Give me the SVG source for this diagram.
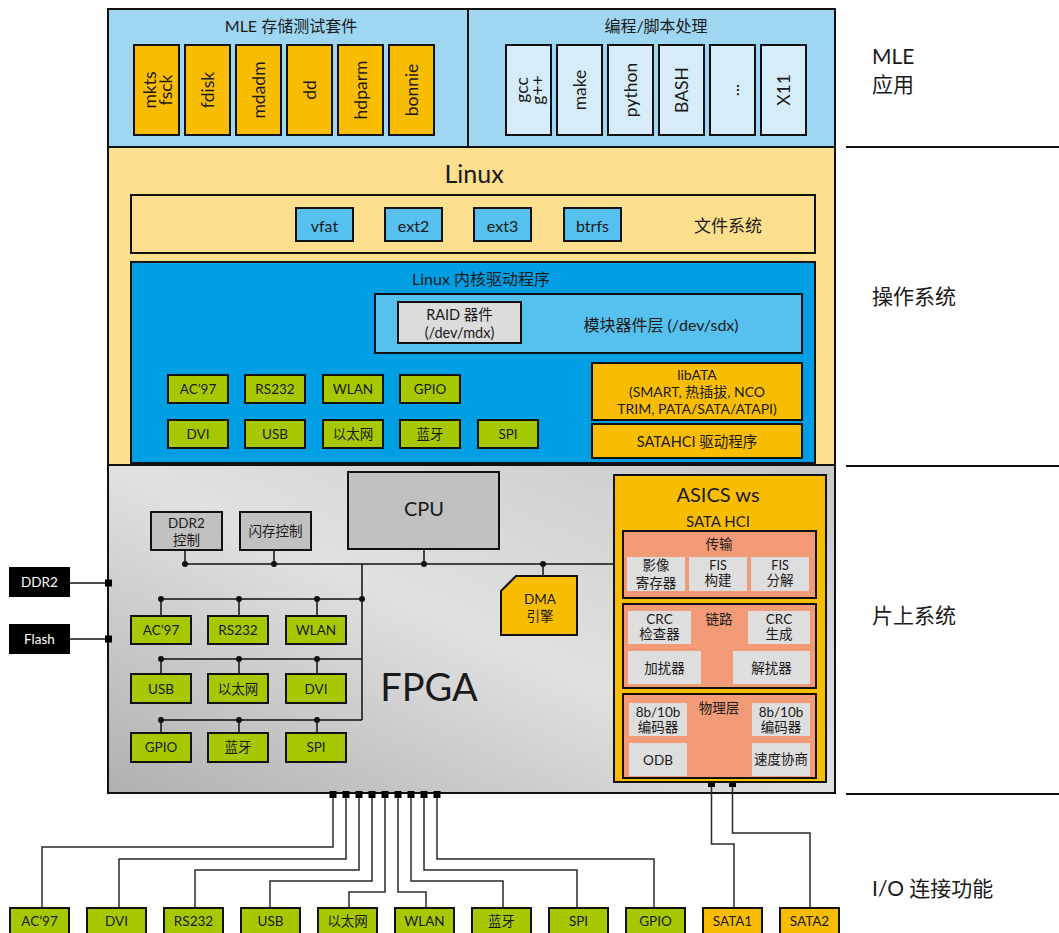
<svg xmlns="http://www.w3.org/2000/svg" width="1059" height="933" viewBox="0 0 1059 933">
<defs>
<linearGradient id="fpgaGrad" x1="0" y1="1" x2="1" y2="0">
<stop offset="0" stop-color="#b0b0b0"/>
<stop offset="0.5" stop-color="#e1e1e1"/>
<stop offset="1" stop-color="#c8c8c8"/>
</linearGradient>
</defs>
<style>
text{font-family:Lato,"Noto Sans CJK SC",sans-serif;fill:#1a1a1a;text-anchor:middle;dominant-baseline:central;font-size:13.5px}
.b{stroke:#111;stroke-width:2}
.org{fill:#f9bd00}
.lb{fill:#d6ecf8}
.grn{fill:#a6c800}
.sky{fill:#56c0ee}
.gry{fill:#c1c1c1}
.lg{fill:#dedede}
.sal{fill:#f29b76}
.v{font-size:17.5px}
.w{fill:#fff}
.ln{fill:none;stroke:#111;stroke-width:1.5}
.bl{fill:none;stroke:#2a2a2a;stroke-width:1.5}
.sep{stroke:#111;stroke-width:2}
.lab{font-size:21px;text-anchor:start}
</style>

<!-- bands -->
<g id="band-mle">
<rect x="108" y="9" width="727" height="138" fill="#9fd7f2" class="b"/>
<line x1="468" y1="9" x2="468" y2="147" class="sep"/>
<text x="291" y="25" style="font-size:16px">MLE 存储测试套件</text>
<text x="656" y="25" style="font-size:16px">编程/脚本处理</text>
</g>
<g id="band-linux">
<rect x="108" y="147" width="727" height="318" fill="#fddf8e" class="b"/>
<text x="474" y="173" style="font-size:25px">Linux</text>
</g>
<g id="band-fpga">
<rect x="108" y="465" width="727" height="328" fill="url(#fpgaGrad)" class="b"/>
<text x="429" y="686" style="font-size:38px">FPGA</text>
</g>

<!-- MLE storage tools -->
<g id="app-mkts"><rect x="134" y="45" width="45" height="90" class="org b"/><text class="v" transform="translate(156.5,90) rotate(-90)"><tspan x="0" y="-8">mkts</tspan><tspan x="0" y="8">fsck</tspan></text></g>
<g id="app-fdisk"><rect x="185" y="45" width="45" height="90" class="org b"/><text class="v" transform="translate(207.5,90) rotate(-90)">fdisk</text></g>
<g id="app-mdadm"><rect x="236" y="45" width="45" height="90" class="org b"/><text class="v" transform="translate(258.5,90) rotate(-90)">mdadm</text></g>
<g id="app-dd"><rect x="287" y="45" width="45" height="90" class="org b"/><text class="v" transform="translate(309.5,90) rotate(-90)">dd</text></g>
<g id="app-hdparm"><rect x="338" y="45" width="45" height="90" class="org b"/><text class="v" transform="translate(360.5,90) rotate(-90)">hdparm</text></g>
<g id="app-bonnie"><rect x="389" y="45" width="45" height="90" class="org b"/><text class="v" transform="translate(411.5,90) rotate(-90)">bonnie</text></g>

<g id="app-gcc"><rect x="506" y="45" width="45" height="90" class="lb b"/><text class="v" transform="translate(528.5,90) rotate(-90)"><tspan x="0" y="-8">gcc</tspan><tspan x="0" y="8">g++</tspan></text></g>
<g id="app-make"><rect x="557" y="45" width="45" height="90" class="lb b"/><text class="v" transform="translate(579.5,90) rotate(-90)">make</text></g>
<g id="app-python"><rect x="608" y="45" width="45" height="90" class="lb b"/><text class="v" transform="translate(630.5,90) rotate(-90)">python</text></g>
<g id="app-bash"><rect x="659" y="45" width="45" height="90" class="lb b"/><text class="v" transform="translate(681.5,90) rotate(-90)">BASH</text></g>
<g id="app-etc"><rect x="710" y="45" width="45" height="90" class="lb b"/><text class="v" transform="translate(732.5,90) rotate(-90)">...</text></g>
<g id="app-x11"><rect x="761" y="45" width="45" height="90" class="lb b"/><text class="v" transform="translate(783.5,90) rotate(-90)">X11</text></g>

<!-- file systems -->
<g id="fs">
<rect x="131" y="195" width="684" height="58" fill="#fddf8e" class="b"/>
<text x="728" y="225" style="font-size:17px">文件系统</text>
</g>
<g id="fs-vfat"><rect x="296" y="208" width="57" height="33" class="sky b"/><text x="324.5" y="225" style="font-size:16px">vfat</text></g>
<g id="fs-ext2"><rect x="385" y="208" width="57" height="33" class="sky b"/><text x="413.5" y="225" style="font-size:16px">ext2</text></g>
<g id="fs-ext3"><rect x="474" y="208" width="57" height="33" class="sky b"/><text x="502.5" y="225" style="font-size:16px">ext3</text></g>
<g id="fs-btrfs"><rect x="564" y="208" width="57" height="33" class="sky b"/><text x="592.5" y="225" style="font-size:16px">btrfs</text></g>

<!-- kernel -->
<g id="kernel">
<rect x="131" y="262" width="684" height="201" fill="#009fe3" class="b"/>
<text x="481" y="278" style="font-size:16px">Linux 内核驱动程序</text>
</g>
<g id="block-layer">
<rect x="375" y="294" width="427" height="59" class="sky b"/>
<text x="661" y="324" style="font-size:16px">模块器件层 (/dev/sdx)</text>
</g>
<g id="raid"><rect x="398" y="302" width="123" height="41" fill="#dcdcdc" class="b"/><text x="459.5" y="314" style="font-size:14.5px">RAID 器件</text><text x="459.5" y="332" style="font-size:14.5px">(/dev/mdx)</text></g>
<g id="libata"><rect x="592" y="363" width="210" height="57" class="org b"/>
<text x="697" y="374" style="font-size:14px">libATA</text>
<text x="697" y="391" style="font-size:14px">(SMART, 热插拔, NCO</text>
<text x="697" y="408" style="font-size:14px">TRIM, PATA/SATA/ATAPI)</text></g>
<g id="satahci-drv"><rect x="592" y="424" width="210" height="34" class="org b"/><text x="697" y="441" style="font-size:14.5px">SATAHCI 驱动程序</text></g>

<g id="k-ac97"><rect x="168" y="375" width="60" height="28" class="grn b"/><text x="198" y="389">AC’97</text></g>
<g id="k-rs232"><rect x="245" y="375" width="60" height="28" class="grn b"/><text x="275" y="389">RS232</text></g>
<g id="k-wlan"><rect x="323" y="375" width="60" height="28" class="grn b"/><text x="353" y="389">WLAN</text></g>
<g id="k-gpio"><rect x="400" y="375" width="60" height="28" class="grn b"/><text x="430" y="389">GPIO</text></g>
<g id="k-dvi"><rect x="168" y="420" width="60" height="28" class="grn b"/><text x="198" y="434">DVI</text></g>
<g id="k-usb"><rect x="245" y="420" width="60" height="28" class="grn b"/><text x="275" y="434">USB</text></g>
<g id="k-eth"><rect x="323" y="420" width="60" height="28" class="grn b"/><text x="353" y="434">以太网</text></g>
<g id="k-bt"><rect x="400" y="420" width="60" height="28" class="grn b"/><text x="430" y="434">蓝牙</text></g>
<g id="k-spi"><rect x="478" y="420" width="60" height="28" class="grn b"/><text x="508" y="434">SPI</text></g>

<!-- connectors -->
<g id="connectors">
<path class="ln" d="M185 550V564M274 550V564M424 549V564M185 564H613M543 564V576M362 564V720M161 599H362M161 599V616M239 599V616M317 599V616M161 659H362M161 659V674M239 659V674M317 659V674M161 720H362M161 720V733M239 720V733M317 720V733"/>
<path class="ln" d="M70 583H108M70 639H108"/>
<g fill="#111">
<circle cx="185" cy="564" r="3"/><circle cx="274" cy="564" r="3"/><circle cx="424" cy="564" r="3"/><circle cx="543" cy="564" r="3"/>
<circle cx="161" cy="599" r="3"/><circle cx="239" cy="599" r="3"/><circle cx="317" cy="599" r="3"/><circle cx="362" cy="599" r="3"/>
<circle cx="161" cy="659" r="3"/><circle cx="239" cy="659" r="3"/><circle cx="317" cy="659" r="3"/>
<circle cx="161" cy="720" r="3"/><circle cx="239" cy="720" r="3"/><circle cx="317" cy="720" r="3"/>
</g>
<path class="bl" d="M333 798V847H42V908M346 798V859H119V908M359 798V870H195V908M372 798V881H270V908M385 798V892H349V908M398 798V892H426V908M411 798V881H503V908M424 798V870H577V908M437 798V859H654V908M711.5 787V844H734V908M732.5 787V833H810V908"/>
<g fill="#000">
<rect x="329.5" y="791" width="7" height="7"/><rect x="342.5" y="791" width="7" height="7"/><rect x="355.5" y="791" width="7" height="7"/>
<rect x="368.5" y="791" width="7" height="7"/><rect x="381.5" y="791" width="7" height="7"/><rect x="394.5" y="791" width="7" height="7"/>
<rect x="407.5" y="791" width="7" height="7"/><rect x="420.5" y="791" width="7" height="7"/><rect x="433.5" y="791" width="7" height="7"/>
<rect x="105" y="579.5" width="7" height="7"/><rect x="105" y="635.5" width="7" height="7"/>
<rect x="708" y="780" width="7" height="7"/><rect x="729" y="780" width="7" height="7"/>
</g>
</g>

<!-- FPGA blocks -->
<g id="cpu"><rect x="348" y="472" width="151" height="77" class="gry b"/><text x="424" y="508" style="font-size:20px">CPU</text></g>
<g id="ddr2-ctrl"><rect x="151" y="512" width="71" height="38" class="gry b"/><text x="186.5" y="523">DDR2</text><text x="186.5" y="540">控制</text></g>
<g id="flash-ctrl"><rect x="240" y="512" width="71" height="38" class="gry b"/><text x="275.5" y="531">闪存控制</text></g>
<g id="dma"><path d="M516 576H577V635H501V591Z" class="org b"/><text x="540" y="599">DMA</text><text x="540" y="616">引擎</text></g>

<g id="f-ac97"><rect x="131" y="616" width="60" height="28" class="grn b"/><text x="161" y="630">AC’97</text></g>
<g id="f-rs232"><rect x="208" y="616" width="60" height="28" class="grn b"/><text x="238" y="630">RS232</text></g>
<g id="f-wlan"><rect x="286" y="616" width="60" height="28" class="grn b"/><text x="316" y="630">WLAN</text></g>
<g id="f-usb"><rect x="131" y="674" width="60" height="29" class="grn b"/><text x="161" y="689">USB</text></g>
<g id="f-eth"><rect x="208" y="674" width="60" height="29" class="grn b"/><text x="238" y="689">以太网</text></g>
<g id="f-dvi"><rect x="286" y="674" width="60" height="29" class="grn b"/><text x="316" y="689">DVI</text></g>
<g id="f-gpio"><rect x="131" y="733" width="60" height="29" class="grn b"/><text x="161" y="747">GPIO</text></g>
<g id="f-bt"><rect x="208" y="733" width="60" height="29" class="grn b"/><text x="238" y="747">蓝牙</text></g>
<g id="f-spi"><rect x="286" y="733" width="60" height="29" class="grn b"/><text x="316" y="747">SPI</text></g>

<g id="ext-ddr2"><rect x="9" y="567" width="61" height="30" fill="#000"/><text x="39.5" y="582" class="w">DDR2</text></g>
<g id="ext-flash"><rect x="9" y="624" width="61" height="30" fill="#000"/><text x="39.5" y="639" class="w">Flash</text></g>

<!-- ASICS -->
<g id="asics">
<rect x="614" y="475" width="212" height="307" class="org b"/>
<text x="718" y="494" style="font-size:20px">ASICS ws</text>
<text x="718" y="521" style="font-size:15px">SATA HCI</text>
</g>
<g id="transport">
<rect x="623" y="531" width="193" height="67" class="sal b"/>
<text x="719" y="544">传输</text>
<rect x="627" y="557" width="58" height="34" class="lg"/><text x="656" y="565">影像</text><text x="656" y="583">寄存器</text>
<rect x="689" y="557" width="58" height="34" class="lg"/><text x="718" y="565" style="font-size:12.5px">FIS</text><text x="718" y="580">构建</text>
<rect x="751" y="557" width="58" height="34" class="lg"/><text x="780" y="565" style="font-size:12.5px">FIS</text><text x="780" y="580">分解</text>
</g>
<g id="link">
<rect x="623" y="604" width="193" height="84" class="sal b"/>
<text x="719" y="619">链路</text>
<rect x="628" y="611" width="63" height="33" class="lg"/><text x="659.5" y="619">CRC</text><text x="659.5" y="634">检查器</text>
<rect x="748" y="611" width="62" height="33" class="lg"/><text x="779" y="619">CRC</text><text x="779" y="634">生成</text>
<rect x="628" y="651" width="73" height="33" class="lg"/><text x="664.5" y="668">加扰器</text>
<rect x="733" y="651" width="77" height="33" class="lg"/><text x="771.5" y="668">解扰器</text>
</g>
<g id="phy">
<rect x="623" y="694" width="193" height="84" class="sal b"/>
<text x="719" y="708">物理层</text>
<rect x="629" y="703" width="58" height="33" class="lg"/><text x="658" y="712">8b/10b</text><text x="658" y="727">编码器</text>
<rect x="752" y="703" width="58" height="33" class="lg"/><text x="781" y="712">8b/10b</text><text x="781" y="727">编码器</text>
<rect x="629" y="743" width="58" height="33" class="lg"/><text x="658" y="760">ODB</text>
<rect x="752" y="743" width="58" height="33" class="lg"/><text x="781" y="759">速度协商</text>
</g>

<!-- I/O -->
<g id="io-ac97"><rect x="10" y="908" width="59" height="32" class="grn b"/><text x="39.5" y="921">AC’97</text></g>
<g id="io-dvi"><rect x="87" y="908" width="59" height="32" class="grn b"/><text x="116.5" y="921">DVI</text></g>
<g id="io-rs232"><rect x="164" y="908" width="59" height="32" class="grn b"/><text x="193.5" y="921">RS232</text></g>
<g id="io-usb"><rect x="241" y="908" width="59" height="32" class="grn b"/><text x="270.5" y="921">USB</text></g>
<g id="io-eth"><rect x="318" y="908" width="59" height="32" class="grn b"/><text x="347.5" y="921">以太网</text></g>
<g id="io-wlan"><rect x="395" y="908" width="59" height="32" class="grn b"/><text x="424.5" y="921">WLAN</text></g>
<g id="io-bt"><rect x="472" y="908" width="59" height="32" class="grn b"/><text x="501.5" y="921">蓝牙</text></g>
<g id="io-spi"><rect x="549" y="908" width="59" height="32" class="grn b"/><text x="578.5" y="921">SPI</text></g>
<g id="io-gpio"><rect x="626" y="908" width="59" height="32" class="grn b"/><text x="655.5" y="921">GPIO</text></g>
<g id="io-sata1"><rect x="703" y="908" width="59" height="32" class="org b"/><text x="732.5" y="921">SATA1</text></g>
<g id="io-sata2"><rect x="780" y="908" width="59" height="32" class="org b"/><text x="809.5" y="921">SATA2</text></g>

<!-- layer labels -->
<g id="layers">
<line x1="846" y1="147" x2="1059" y2="147" class="sep"/>
<line x1="846" y1="466" x2="1059" y2="466" class="sep"/>
<line x1="846" y1="794" x2="1059" y2="794" class="sep"/>
<text x="872" y="55" class="lab">MLE</text>
<text x="872" y="83" class="lab">应用</text>
<text x="872" y="295" class="lab">操作系统</text>
<text x="872" y="614" class="lab">片上系统</text>
<text x="872" y="887" class="lab">I/O 连接功能</text>
</g>
</svg>
